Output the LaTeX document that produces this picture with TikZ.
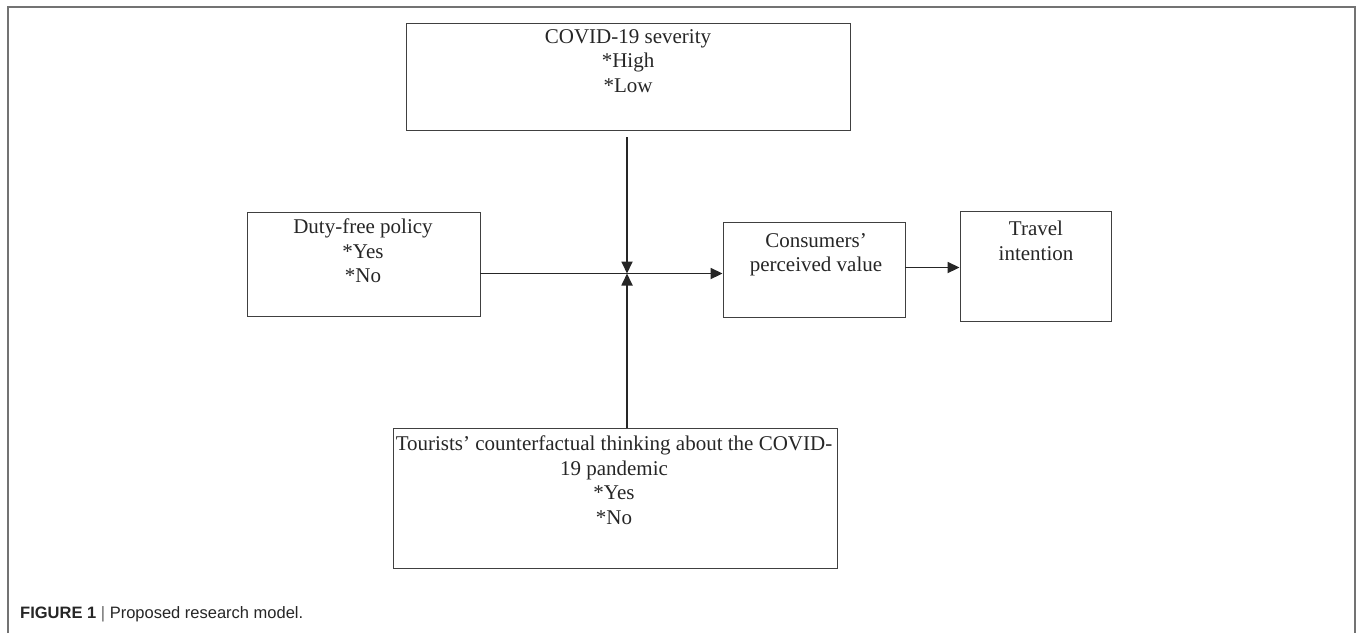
\documentclass[tikz,border=0pt]{standalone}
\usepackage{fontspec}
\setmainfont{Liberation Serif}
\newfontfamily\capfont{Liberation Sans}
\usetikzlibrary{arrows.meta}
\tikzset{
  box/.style={draw=black!75, line width=0.9pt, rectangle, inner sep=0pt},
  txt/.style={font=\fontsize{21}{24.5}\selectfont, align=center, anchor=north, inner sep=0pt, text=black!85},
  arr/.style={line width=1.8pt, draw=black!85, -{Triangle[length=12pt,width=11pt]}},
  frame/.style={draw=black!55, line width=2pt}
}
\begin{document}
\begin{tikzpicture}[x=1pt,y=-1pt]
\useasboundingbox (0,0) rectangle (1357,633);
% outer frame
\coordinate (f1) at (8,633);
\coordinate (f2) at (8,7);
\coordinate (f3) at (1355,7);
\coordinate (f4) at (1355,633);
\draw[frame] (f1) -- (f2) -- (f3) -- (f4);
% boxes
\node[box, minimum width=444pt, minimum height=107pt] (sev) at (628,76.5) {};
\node[box, minimum width=233pt, minimum height=104pt] (duty) at (363.5,264.5) {};
\node[box, minimum width=182pt, minimum height=95pt] (cons) at (814,270) {};
\node[box, minimum width=151pt, minimum height=110pt] (trav) at (1035.5,266) {};
\node[box, minimum width=444pt, minimum height=140pt] (tour) at (615,498) {};
% texts
\node[txt] (sevt) at (628,29) {COVID-19 severity\\*High\\*Low};
\node[txt] (dutyt) at (363,219) {Duty-free policy\\*Yes\\*No};
\node[txt] (const) at (816,233) {Consumers’\\perceived value};
\node[txt] (travt) at (1036,221) {Travel\\intention};
\node[txt] (tourt) at (614,436) {Tourists’ counterfactual thinking about the COVID-\\19 pandemic\\*Yes\\*No};
% connectors
\coordinate (J) at (627,273.5);
\coordinate (sevS) at (627,137);
\coordinate (tourN) at (627,428);
\draw[arr] (sevS) -- (J);
\draw[arr] (tourN) -- (J);
\draw[arr] (duty.east |- J) -- (cons.west |- J);
\draw[arr] (cons.east |- 0,267.5) -- (trav.west |- 0,267.5);
% caption
\node[anchor=base west, inner sep=0pt, font=\capfont\fontsize{16.5}{19}\selectfont, text=black!85] (cap) at (20,618) {\textbf{FIGURE 1} {\color{black!60}|} Proposed research model.};
\end{tikzpicture}
\end{document}
